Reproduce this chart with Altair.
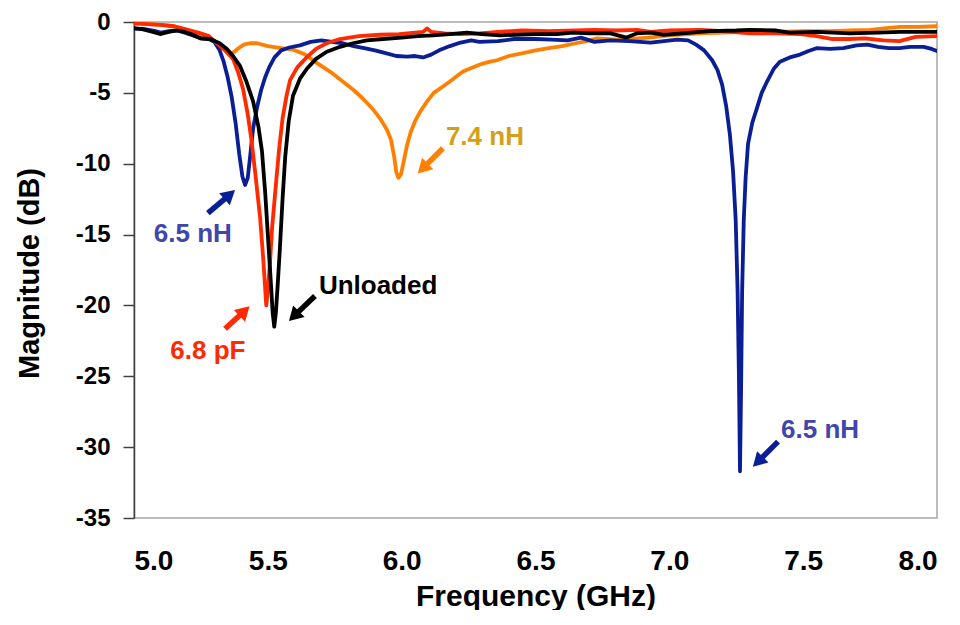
import altair as alt
import pandas as pd

# ---------------- data ----------------
blue_f = [5.00, 5.04, 5.08, 5.10, 5.13, 5.16, 5.19, 5.22, 5.25, 5.28, 5.30, 5.32, 5.335, 5.35, 5.365,
          5.38, 5.393, 5.405, 5.415, 5.425, 5.435, 5.445, 5.46, 5.475, 5.49, 5.505, 5.525, 5.55, 5.58,
          5.62, 5.66, 5.70, 5.74, 5.78, 5.82, 5.86, 5.90, 5.94, 5.98, 6.02, 6.05, 6.08, 6.11, 6.14,
          6.18, 6.22, 6.26, 6.29, 6.36, 6.42, 6.50, 6.56, 6.62, 6.67, 6.72, 6.78, 6.85, 6.93, 6.98,
          7.03, 7.07, 7.10, 7.13, 7.16, 7.18, 7.197, 7.212, 7.226, 7.238, 7.248, 7.255, 7.26, 7.264,
          7.268, 7.272, 7.278, 7.285, 7.294, 7.31, 7.327, 7.345, 7.365, 7.39, 7.413, 7.45, 7.488,
          7.52, 7.55, 7.60, 7.65, 7.70, 7.74, 7.78, 7.82, 7.86, 7.90, 7.95, 7.98, 8.00]
blue_db = [-0.45, -0.5, -0.65, -0.75, -0.65, -0.6, -0.75, -0.95, -1.15, -1.2, -1.4, -2.0, -2.8, -3.9, -5.3,
           -7.2, -9.3, -10.9, -11.5, -11.0, -9.3, -7.5, -6.0, -4.8, -3.9, -3.2, -2.5, -2.0, -1.8,
           -1.65, -1.4, -1.3, -1.4, -1.5, -1.7, -1.85, -2.0, -2.2, -2.4, -2.45, -2.4, -2.5, -2.3, -2.0,
           -1.7, -1.45, -1.3, -1.4, -1.35, -1.2, -1.2, -1.25, -1.3, -1.1, -1.4, -1.3, -1.35, -1.45, -1.35,
           -1.25, -1.3, -1.6, -2.0, -2.7, -3.4, -4.4, -5.9, -7.9, -10.5, -14.0, -19.0, -25.0, -31.7,
           -26.0, -19.0, -14.0, -11.0, -8.6, -7.1, -6.1, -5.0, -4.2, -3.3, -2.8, -2.5, -2.3,
           -2.05, -1.85, -1.9, -1.85, -1.65, -1.6, -1.75, -1.85, -1.85, -1.75, -1.75, -1.9, -2.05]

red_f = [5.00, 5.05, 5.10, 5.15, 5.20, 5.24, 5.28, 5.31, 5.34, 5.37, 5.39, 5.407, 5.425, 5.44, 5.455,
         5.471, 5.482, 5.489, 5.494, 5.50, 5.508, 5.516, 5.53, 5.542, 5.555, 5.57, 5.583, 5.61, 5.645,
         5.68, 5.72, 5.77, 5.84, 5.92, 5.99, 6.05, 6.08, 6.095, 6.11, 6.16, 6.22, 6.29, 6.36, 6.45,
         6.55, 6.65, 6.72, 6.80, 6.88, 6.93, 7.00, 7.115, 7.20, 7.30, 7.40, 7.49, 7.55, 7.61, 7.67,
         7.73, 7.80, 7.86, 7.92, 8.00]
red_db = [-0.1, -0.15, -0.2, -0.3, -0.55, -0.75, -1.0, -1.5, -2.0, -2.6, -3.6, -4.7, -6.5, -8.5, -11.0,
          -13.8, -16.5, -18.5, -20.0, -19.0, -17.0, -14.5, -11.5, -9.0, -6.8, -5.2, -4.1, -3.2, -2.5,
          -1.9, -1.5, -1.2, -1.0, -0.9, -0.85, -0.75, -0.7, -0.45, -0.7, -0.8, -0.85, -0.8, -0.7, -0.6,
          -0.65, -0.6, -0.55, -0.6, -0.55, -0.7, -0.6, -0.55, -0.65, -0.8, -0.8, -0.85, -1.0, -1.2, -1.2,
          -1.15, -1.3, -1.35, -1.05, -1.0]

black_f = [5.00, 5.03, 5.06, 5.097, 5.13, 5.16, 5.19, 5.22, 5.247, 5.284, 5.32, 5.347, 5.37, 5.396,
           5.42, 5.445, 5.465, 5.478, 5.49, 5.50, 5.51, 5.518, 5.524, 5.53, 5.537, 5.545, 5.555, 5.565,
           5.578, 5.594, 5.62, 5.646, 5.68, 5.72, 5.77, 5.818, 5.87, 5.93, 6.00, 6.06, 6.117, 6.18,
           6.244, 6.30, 6.367, 6.42, 6.50, 6.58, 6.64, 6.70, 6.78, 6.84, 6.88, 6.93, 6.98, 7.05, 7.15,
           7.25, 7.30, 7.40, 7.45, 7.55, 7.675, 7.78, 7.86, 7.93, 8.00]
black_db = [-0.45, -0.5, -0.65, -0.85, -0.7, -0.6, -0.7, -0.9, -1.15, -1.2, -1.5, -1.9, -2.4, -3.1,
            -4.2, -5.6, -7.4, -9.1, -12.0, -15.0, -18.0, -20.5, -21.5, -20.5, -18.5, -16.0, -12.5, -9.5,
            -7.0, -5.2, -4.0, -3.3, -2.6, -2.1, -1.75, -1.5, -1.3, -1.2, -1.1, -1.0, -0.95, -0.85,
            -0.75, -0.85, -0.95, -0.9, -0.85, -0.85, -0.75, -0.8, -0.8, -1.1, -0.8, -0.75, -0.9, -0.8, -0.65,
            -0.6, -0.55, -0.6, -0.75, -0.7, -0.8, -0.75, -0.7, -0.7, -0.7]

orange_f = [5.00, 5.05, 5.10, 5.15, 5.20, 5.247, 5.28, 5.31, 5.34, 5.36, 5.375, 5.39, 5.41, 5.433,
            5.46, 5.50, 5.55, 5.594, 5.64, 5.684, 5.732, 5.78, 5.82, 5.855, 5.89, 5.919, 5.945, 5.96,
            5.972, 5.98, 5.988, 5.998, 6.008, 6.02, 6.035, 6.05, 6.07, 6.095, 6.12, 6.15, 6.18, 6.229,
            6.26, 6.30, 6.33, 6.356, 6.40, 6.453, 6.50, 6.55, 6.60, 6.65, 6.69, 6.73, 6.80, 6.86, 6.92,
            7.00, 7.115, 7.20, 7.30, 7.40, 7.50, 7.60, 7.675, 7.75, 7.80, 7.862, 7.93, 8.00]
orange_db = [-0.1, -0.15, -0.2, -0.3, -0.55, -0.85, -1.1, -1.5, -1.9, -2.2, -2.1, -1.85, -1.6, -1.5,
             -1.5, -1.7, -1.85, -1.95, -2.3, -2.9, -3.5, -4.2, -4.8, -5.4, -6.1, -6.8, -7.6, -8.3,
             -9.5, -10.6, -11.0, -10.7, -9.8, -8.7, -7.7, -7.0, -6.3, -5.6, -5.0, -4.6, -4.2, -3.5,
             -3.25, -2.95, -2.8, -2.7, -2.4, -2.2, -2.0, -1.85, -1.7, -1.5, -1.35, -1.15, -1.25, -1.2, -1.1,
             -0.95, -0.8, -0.75, -0.7, -0.7, -0.65, -0.65, -0.6, -0.55, -0.45, -0.35, -0.35, -0.3]

# annotations
label_text = ["6.5 nH", "6.8 pF", "Unloaded", "7.4 nH", "6.5 nH"]
label_f = [5.220, 5.276, 5.912, 6.311, 7.563]
label_db = [-14.96, -23.2, -18.63, -8.13, -28.8]
label_color = ["#4046AC", "#FF2A00", "#000000", "#D4A017", "#4046AC"]

arrow_tail_f = [5.276, 5.340, 5.676, 6.154, 7.406]
arrow_tail_db = [-13.49, -21.65, -19.33, -8.91, -29.61]
arrow_tip_f = [5.377, 5.430, 5.579, 6.061, 7.313]
arrow_tip_db = [-11.87, -20.10, -21.09, -10.67, -31.37]
arrow_angle = [48.7, 46.0, 225.0, 225.0, 225.0]
arrow_color = ["#0A1E96", "#FF2A00", "#000000", "#FF8000", "#0A1E96"]

x_ticks = [5.0, 5.5, 6.0, 6.5, 7.0, 7.5, 8.0]
y_ticks = [0, -5, -10, -15, -20, -25, -30, -35]

FONT = "Liberation Sans"

# ---------------- chart ----------------
x_scale = alt.Scale(domain=[5, 8], nice=False, zero=False)
y_scale = alt.Scale(domain=[-35, 0], nice=False, zero=False)

x_axis = alt.Axis(values=x_ticks, format=".1f", title="Frequency (GHz)", grid=False,
                  domain=False, ticks=False, tickSize=0, labelPadding=43, labelBaseline="middle",
                  labelFont=FONT, labelFontSize=28, labelFontWeight="bold", labelColor="#000000",
                  titleFont=FONT, titleFontSize=30, titleFontWeight="bold", titleColor="#000000",
                  titleY=78, titleBaseline="middle")
y_axis = alt.Axis(values=y_ticks, labelExpr="'' + datum.value", title="Magnitude (dB)", grid=False,
                  domainColor="#404040", domainWidth=1.5, tickColor="#404040", tickWidth=1.5,
                  tickSize=11, labelPadding=13, labelFont=FONT, labelFontSize=24,
                  labelFontWeight="bold", labelColor="#000000",
                  titleFont=FONT, titleFontSize=29, titleFontWeight="bold", titleColor="#000000",
                  titleX=-105, titleY=251, titleAngle=-90, titleBaseline="middle", titleAlign="center")


def X(field):
    return alt.X(field, type="quantitative", scale=x_scale, axis=x_axis)


def Y(field):
    return alt.Y(field, type="quantitative", scale=y_scale, axis=y_axis)


def series(fs, ds, color):
    df = pd.DataFrame({"f": fs, "db": ds, "i": range(len(fs))})
    return alt.Chart(df).mark_line(color=color, strokeWidth=3.8, clip=True,
                                   strokeJoin="round", strokeCap="round").encode(
        x=X("f"), y=Y("db"), order="i:Q")


layers = [
    series(orange_f, orange_db, "#FF8000"),
    series(blue_f, blue_db, "#0A1E96"),
    series(red_f, red_db, "#FF2A00"),
    series(black_f, black_db, "#000000"),
]

arr = pd.DataFrame({
    "tf": arrow_tail_f, "td": arrow_tail_db,
    "hf": arrow_tip_f, "hd": arrow_tip_db,
    "ang": arrow_angle, "col": arrow_color,
})
# centre of the arrow head a little behind the tip
arr["cf"] = arr["hf"] - 0.19 * (arr["hf"] - arr["tf"])
arr["cd"] = arr["hd"] - 0.19 * (arr["hd"] - arr["td"])

shafts = alt.Chart(arr).mark_rule(strokeWidth=5.5).encode(
    x=X("tf"), y=Y("td"),
    x2="cf:Q", y2="cd:Q", color=alt.Color("col:N", scale=None))
heads = alt.Chart(arr).mark_point(shape="triangle-up", filled=True, size=260, opacity=1,
                                  strokeWidth=0).encode(
    x=X("cf"), y=Y("cd"),
    angle=alt.Angle("ang:Q", scale=None), color=alt.Color("col:N", scale=None))

lab = pd.DataFrame({"t": label_text, "f": label_f, "db": label_db, "c": label_color})
texts = alt.Chart(lab).mark_text(font=FONT, fontSize=26, fontWeight="bold",
                                 align="center", baseline="middle").encode(
    x=X("f"), y=Y("db"),
    text="t:N", color=alt.Color("c:N", scale=None))

chart = alt.layer(*layers, shafts, heads, texts).properties(
    width=803, height=496,
    autosize=alt.AutoSizeParams(type="none"),
    padding={"left": 126, "top": 14, "right": 15, "bottom": 92},
    background="white",
).configure_view(stroke="#A6A6A6", strokeWidth=1.5)

chart.save("out.html", embed_options={"renderer": "svg", "actions": False})
